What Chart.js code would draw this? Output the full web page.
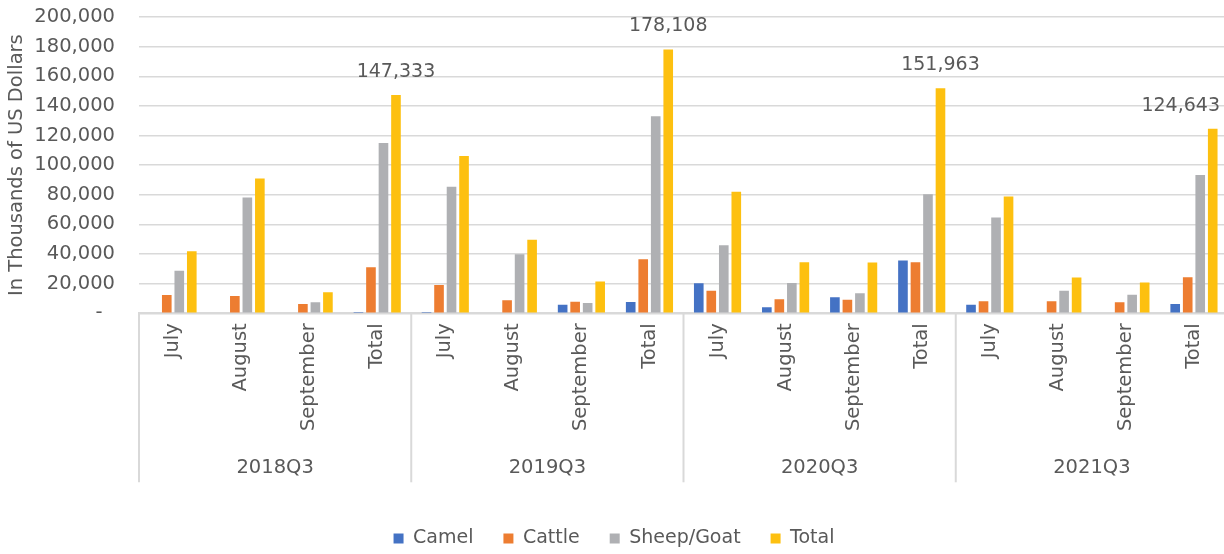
<!DOCTYPE html>
<html>
<head>
<meta charset="utf-8">
<title>Livestock exports, Q3 2018–2021</title>
<script src="https://cdn.jsdelivr.net/npm/chart.js@4.4.1/dist/chart.umd.min.js"></script>
<style>
  html, body { margin: 0; padding: 0; background: #ffffff; overflow: hidden; }
  #wrap { width: 1224px; height: 554px; overflow: hidden; }
  #chart { display: block; }
</style>
</head>
<body>
<div id="wrap"><canvas id="chart" width="1228" height="554"></canvas></div>
<script>
// Quarter groups and the months inside each group
const quarters = ['2018Q3', '2019Q3', '2020Q3', '2021Q3'];
const months = ['July', 'August', 'September', 'Total'];

// Values in thousands of US dollars, one entry per month per quarter
const camel     = [0, 0, 0, 800,        900, 0, 5800, 7600,         20200, 4100, 10800, 35700,     5800, 0, 0, 6200];
const cattle    = [12300, 11700, 6300, 31000,   19100, 8800, 7800, 36400,   15200, 9400, 9200, 34400,   8100, 8100, 7400, 24300];
const sheepGoat = [28700, 78200, 7400, 115000,  85400, 39800, 7000, 133000, 46000, 20400, 13500, 80400, 64700, 15200, 12500, 93300];
const total     = [41800, 91000, 14200, 147333, 106100, 49600, 21400, 178108, 82000, 34500, 34300, 151963, 78800, 24200, 20800, 124643];

// Value axis
const yMax = 200000;
const yStep = 20000;

const labels = quarters.flatMap(() => months);
const textColor = '#595959';
const gridColor = '#d9d9d9';
const fontFamily = "'DejaVu Sans', sans-serif";
const visibleWidth = 1224;

const fmt = v => String(Math.round(v)).replace(/\B(?=(\d{3})+(?!\d))/g, ',');

// Second row of the category axis: quarter names with separators
const quarterAxis = {
  id: 'quarterAxis',
  afterDraw(chart) {
    const x = chart.scales.x;
    const ctx = chart.ctx;
    const n = months.length;
    const bounds = [];
    for (let g = 0; g <= quarters.length; g++) {
      if (g === 0) bounds.push(x.left);
      else if (g === quarters.length) bounds.push(x.right);
      else bounds.push((x.getPixelForTick(g * n - 1) + x.getPixelForTick(g * n)) / 2);
    }
    ctx.save();
    ctx.strokeStyle = gridColor;
    ctx.lineWidth = 2;
    bounds.forEach(px => {
      ctx.beginPath();
      ctx.moveTo(px, x.top);
      ctx.lineTo(px, x.top + 169);
      ctx.stroke();
    });
    ctx.fillStyle = textColor;
    ctx.font = '19.5px ' + fontFamily;
    ctx.textAlign = 'center';
    ctx.textBaseline = 'middle';
    quarters.forEach((q, g) => {
      ctx.fillText(q, (bounds[g] + bounds[g + 1]) / 2, x.top + 155);
    });
    ctx.restore();
  }
};

// Value labels above the quarterly total bars
const totalLabels = {
  id: 'totalLabels',
  afterDatasetsDraw(chart) {
    const meta = chart.getDatasetMeta(3);
    const ctx = chart.ctx;
    ctx.save();
    ctx.fillStyle = textColor;
    ctx.font = '19px ' + fontFamily;
    ctx.textAlign = 'center';
    ctx.textBaseline = 'middle';
    meta.data.forEach((bar, i) => {
      if (months[i % months.length] !== 'Total') return;
      const text = fmt(total[i]);
      const w = ctx.measureText(text).width;
      const cx = Math.min(bar.x, visibleWidth - 4 - w / 2);
      ctx.fillText(text, cx, bar.y - 23);
    });
    ctx.restore();
  }
};

Chart.defaults.font.family = fontFamily;
Chart.defaults.color = textColor;

new Chart(document.getElementById('chart'), {
  type: 'bar',
  data: {
    labels: labels,
    datasets: [
      { label: 'Camel', data: camel, backgroundColor: '#4472C4' },
      { label: 'Cattle', data: cattle, backgroundColor: '#ED7D31' },
      { label: 'Sheep/Goat', data: sheepGoat, backgroundColor: '#AFB0B3' },
      { label: 'Total', data: total, backgroundColor: '#FDC010' }
    ]
  },
  options: {
    responsive: false,
    animation: false,
    devicePixelRatio: 1,
    datasets: { bar: { categoryPercentage: 0.735, barPercentage: 0.77 } },
    layout: { padding: { top: 17, right: 0, bottom: -4, left: 0 } },
    plugins: {
      legend: {
        position: 'bottom',
        labels: {
          boxWidth: 10,
          boxHeight: 10,
          padding: 30,
          color: textColor,
          font: { size: 19 }
        }
      },
      tooltip: { enabled: false }
    },
    scales: {
      x: {
        grid: { display: true, color: 'transparent', drawTicks: true, tickLength: 10, tickColor: 'transparent' },
        border: { display: true, color: gridColor, width: 2 },
        ticks: {
          autoSkip: false,
          minRotation: 90,
          maxRotation: 90,
          padding: 0,
          color: textColor,
          font: { size: 19.5 }
        },
        afterFit(scale) { scale.height = 185.7; }
      },
      y: {
        min: 0,
        max: yMax,
        grid: { color: gridColor, lineWidth: 1.5, drawTicks: true, tickLength: 24, tickColor: 'transparent' },
        border: { display: false },
        ticks: {
          stepSize: yStep,
          padding: 0,
          color: textColor,
          font: { size: 19.5 },
          callback: v => (v === 0 ? '-  ' : fmt(v))
        },
        title: {
          display: true,
          text: 'In Thousands of US Dollars',
          color: textColor,
          font: { size: 19.5 },
          padding: { top: 5, bottom: 0 }
        },
        afterFit(scale) { scale.width = 139; }
      }
    }
  },
  plugins: [quarterAxis, totalLabels]
});
</script>
</body>
</html>
